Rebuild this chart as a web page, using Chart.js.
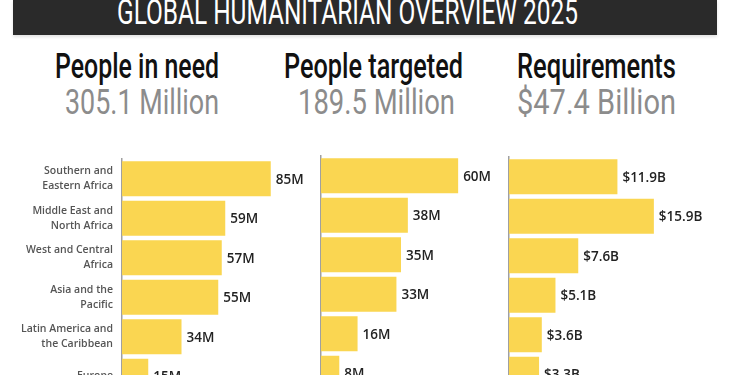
<!DOCTYPE html>
<html>
  <head>
    <meta charset="UTF-8" />
    <title>Global Humanitarian Overview 2025</title>
    <script src="https://cdn.jsdelivr.net/npm/chart.js"></script>
    <style>
      body {
        margin: 0;
        padding: 0;
        width: 730px;
        height: 375px;
        overflow: hidden;
        position: relative;
        background: #fff;
        font-family: Roboto, sans-serif;
      }
      .banner {
        position: absolute;
        left: 13px;
        top: 0;
        width: 704px;
        height: 35px;
        background: #2a2a2a;
        box-shadow: 0 2px 3px rgba(0, 0, 0, 0.12);
        overflow: hidden;
      }
      .fit {
        position: absolute;
        white-space: nowrap;
        line-height: 1;
        transform-origin: 0 0;
      }
      .title { color: #fff; font-size: 35px; font-weight: 400; }
      .head { color: #111; font-size: 35px; font-weight: 500; }
      .sub { color: #8c8c8c; font-size: 35px; font-weight: 400; }
      canvas { position: absolute; }
    </style>
  </head>
  <body>
    <div class="banner">
      <div class="fit title" data-w="461" style="left:104px; top:-5px">GLOBAL HUMANITARIAN OVERVIEW 2025</div>
    </div>

    <div class="fit head" data-w="164" style="left:55px; top:49px">People in need</div>
    <div class="fit sub" data-w="154" style="left:65px; top:85px">305.1 Million</div>
    <div class="fit head" data-w="179" style="left:284px; top:49px">People targeted</div>
    <div class="fit sub" data-w="157" style="left:298px; top:85px">189.5 Million</div>
    <div class="fit head" data-w="159" style="left:517px; top:49px">Requirements</div>
    <div class="fit sub" data-w="159" style="left:517px; top:85px">$47.4 Billion</div>

    <canvas id="need" width="320" height="256" style="left:0; top:140px"></canvas>
    <canvas id="targeted" width="221" height="253" style="left:300px; top:140px"></canvas>
    <canvas id="required" width="240" height="254" style="left:490px; top:140px"></canvas>

    <script>
      const regions = [
        ['Southern and', 'Eastern Africa'],
        ['Middle East and', 'North Africa'],
        ['West and Central', 'Africa'],
        ['Asia and the', 'Pacific'],
        ['Latin America and', 'the Caribbean'],
        'Europe'
      ];
      const peopleInNeed = [85, 59, 57, 55, 34, 15];      // millions
      const peopleTargeted = [60, 38, 35, 33, 16, 8];     // millions
      const requirements = [11.9, 15.9, 7.6, 5.1, 3.6, 3.3]; // billions USD

      // squeeze the headings to the condensed look of the original
      document.querySelectorAll('.fit').forEach(el => {
        const w = el.getBoundingClientRect().width;
        el.style.transform = 'scaleX(' + (el.dataset.w / w) + ')';
      });

      function valueLabels(fmt) {
        return {
          id: 'valueLabels',
          afterDatasetsDraw(chart) {
            const ctx = chart.ctx;
            const data = chart.data.datasets[0].data;
            ctx.save();
            ctx.font = '600 13.5px "Open Sans"';
            ctx.fillStyle = '#222';
            ctx.textBaseline = 'middle';
            chart.getDatasetMeta(0).data.forEach((bar, i) => {
              ctx.fillText(fmt(data[i]), bar.x + 5, bar.y + 1);
            });
            ctx.restore();
          }
        };
      }

      function makeChart(id, values, max, axisWidth, padTop, padRight, showLabels, fmt) {
        new Chart(document.getElementById(id), {
          type: 'bar',
          data: {
            labels: regions,
            datasets: [{
              data: values,
              backgroundColor: '#fad651',
              borderWidth: 0,
              barPercentage: 0.886,
              categoryPercentage: 1
            }]
          },
          options: {
            indexAxis: 'y',
            responsive: false,
            animation: false,
            devicePixelRatio: 1,
            layout: { padding: { top: padTop, right: padRight, bottom: 0, left: 0 } },
            plugins: {
              legend: { display: false },
              tooltip: { enabled: false }
            },
            scales: {
              x: { display: false, min: 0, max: max },
              y: {
                afterFit(scale) {
                  scale.width = axisWidth;
                  scale.paddingTop = 0;
                  scale.paddingBottom = 0;
                },
                grid: { display: false, drawTicks: false },
                border: { display: true, color: '#a0a0a0', width: 1.5 },
                ticks: {
                  display: showLabels,
                  padding: 9,
                  color: '#555',
                  font: { family: 'Open Sans', size: 10.5, weight: '600', lineHeight: 1.4 }
                }
              }
            }
          },
          plugins: [valueLabels(fmt)]
        });
      }

      makeChart('need', peopleInNeed, 100, 122, 19, 23, true, v => v + 'M');
      makeChart('targeted', peopleTargeted, 70, 21, 16, 40, false, v => v + 'M');
      makeChart('required', requirements, 18, 19, 17, 57, false, v => '$' + v.toFixed(1) + 'B');
    </script>
  </body>
</html>
